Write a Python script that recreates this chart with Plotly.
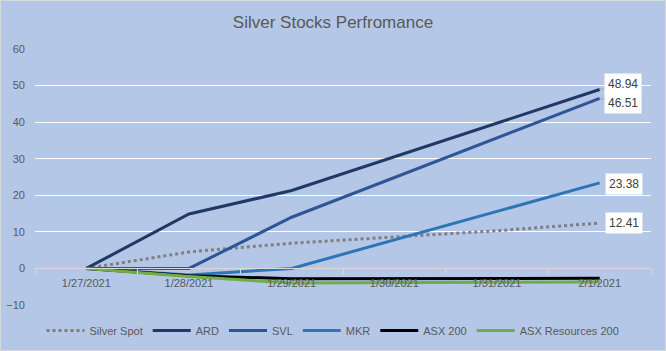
import plotly.graph_objects as go

dates = ["1/27/2021", "1/28/2021", "1/29/2021", "1/30/2021", "1/31/2021", "2/1/2021"]
silver_spot = [0, 4.5, 6.9, 8.7, 10.3, 12.41]
ard = [0, 14.9, 21.3, 30.5, 39.7, 48.94]
svl = [0, 0, 14.0, 24.8, 35.7, 46.51]
mkr = [0, -1.8, 0.0, 7.8, 15.6, 23.38]
asx200 = [0, -2.0, -2.8, -2.8, -2.7, -2.7]
asx_res = [0, -2.2, -4.0, -4.0, -3.8, -3.7]

W, H = 666, 351
ML, MR, MT, MB = 35, 15, 49, 46
PW, PH = W - ML - MR, H - MT - MB

FONT = "Liberation Sans"
GRAY = "#595959"

series = [
    ("Silver Spot", silver_spot, "#7F7F7F", "dot"),
    ("ARD", ard, "#1F3864", "solid"),
    ("SVL", svl, "#2F5597", "solid"),
    ("MKR", mkr, "#2E75B6", "solid"),
    ("ASX 200", asx200, "#000000", "solid"),
    ("ASX Resources 200", asx_res, "#70AD47", "solid"),
]

fig = go.Figure()
for name, vals, color, dash in series:
    fig.add_trace(go.Scatter(
        x=dates, y=vals, name=name, mode="lines",
        line=dict(color=color, width=3, dash=dash),
        hoverinfo="skip",
    ))

label_specs = [
    (ard, 23, -5, True),
    (svl, 23, 5, True),
    (mkr, 24, 1, False),
    (silver_spot, 24, 0, False),
]
for vals, ax, ay, arrow in label_specs:
    common = dict(
        x=dates[-1], y=vals[-1], xref="x", yref="y",
        text=f"{vals[-1]:.2f}",
        font=dict(family=FONT, size=12, color="#404040"),
        bgcolor="white", borderpad=3,
    )
    if arrow:
        fig.add_annotation(**common, showarrow=True, ax=ax, ay=ay,
                           arrowhead=0, arrowwidth=1, arrowcolor="#A6A6A6")
    else:
        fig.add_annotation(**common, showarrow=False, xshift=ax, yshift=-ay)

# outer chart border
fig.add_shape(
    type="rect", xref="paper", yref="paper",
    x0=(0.5 - ML) / PW, x1=(W - 0.5 - ML) / PW,
    y0=-(MB - 0.5) / PH, y1=(H - MB - 0.5) / PH,
    line=dict(color="#D9D9D9", width=1), layer="below",
)

zero_pos = (0 - (-10)) / (60 - (-10))

fig.update_layout(
    width=W, height=H,
    margin=dict(l=ML, r=MR, t=MT, b=MB, autoexpand=False),
    paper_bgcolor="#B4C7E7", plot_bgcolor="#B4C7E7",
    font=dict(family=FONT, size=11, color=GRAY),
    title=dict(text="Silver Stocks Perfromance", x=0.5, xanchor="center",
               y=1 - 22 / H, yanchor="middle", yref="container",
               font=dict(family=FONT, size=17, color=GRAY)),
    xaxis=dict(
        type="category", range=[-0.5, 5.5],
        anchor="free", position=zero_pos,
        showline=True, linecolor="#D9D9D9", linewidth=1,
        ticks="outside", tickson="boundaries", ticklen=5, tickcolor="#D9D9D9",
        showgrid=False, zeroline=False,
        tickfont=dict(family=FONT, size=11, color=GRAY),
        ticklabelstandoff=4,
    ),
    yaxis=dict(
        range=[-10, 60], dtick=10, tick0=0,
        showgrid=True, gridcolor="white", gridwidth=1,
        zeroline=False, showline=False, ticks="",
        tickfont=dict(family=FONT, size=11, color=GRAY),
        ticklabelstandoff=9,
    ),
    legend=dict(
        orientation="h", x=0.5, xanchor="center", xref="container",
        y=(H - 330.5) / H, yanchor="middle", yref="container",
        bgcolor="rgba(0,0,0,0)",
        font=dict(family=FONT, size=11, color=GRAY),
        itemwidth=38, tracegroupgap=0,
    ),
    showlegend=True,
)

fig.write_html("out.html")
